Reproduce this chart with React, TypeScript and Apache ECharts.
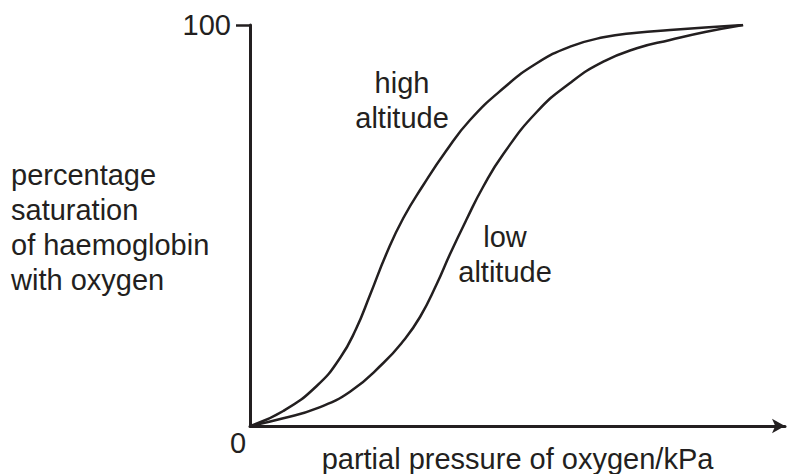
import React, { useEffect, useRef } from "react";
import * as echarts from "echarts";

const highAltitude: [number, number][] = [
  [0, 0], [6.75, 3.74], [13.53, 9.98], [18.26, 16.96], [21.5, 24.19],
  [24.34, 32.67], [27.73, 43.14], [31.1, 51.87], [35.15, 60.1], [39.76, 68.58],
  [44.62, 76.31], [51.38, 84.21], [58.15, 90.45], [64.91, 94.59],
  [71.66, 96.93], [78.44, 98.08], [85.19, 98.75], [92.29, 99.38], [100, 100],
];
const lowAltitude: [number, number][] = [
  [0, 0], [6.75, 1.92], [13.53, 4.41], [20.28, 8.55], [27.04, 15.71],
  [31.03, 21.12], [34.48, 27.18], [37.87, 35.41], [40.57, 42.89], [43.96, 51.62],
  [47.26, 59.6], [51.38, 67.83], [58.15, 78.3], [64.91, 85.54],
  [71.66, 90.85], [78.44, 94.19], [85.19, 96.26], [92.29, 98.25], [100, 100],
];
const yTickValues = [100];
const xAxisTitle = "partial pressure of oxygen/kPa";
const yAxisTitle = ["percentage", "saturation", "of haemoglobin", "with oxygen"];
const curveLabels = { high: ["high", "altitude"], low: ["low", "altitude"] };
const originLabel = "0";

const INK = "#231f20";
const FONT = "Liberation Sans, Arial, sans-serif";
const FS = 29;

export default function App() {
  const ref = useRef<HTMLDivElement>(null);
  useEffect(() => {
    document.body.style.margin = "0";
    const chart = echarts.init(ref.current!, null, { renderer: "svg" });
    const textStyle = (text: string) => ({
      text,
      fill: INK,
      fontSize: FS,
      fontFamily: FONT,
      lineHeight: 35,
    });
    chart.setOption({
      animation: false,
      grid: {
        left: 250,
        top: 25,
        width: 535,
        height: 401,
        containLabel: false,
        outerBoundsMode: "none",
      },
      xAxis: {
        type: "value",
        min: 0,
        max: 108.5,
        axisLine: {
          show: true,
          symbol: ["none", "arrow"],
          symbolSize: [11, 13],
          lineStyle: { color: INK, width: 3 },
        },
        axisTick: { show: false },
        axisLabel: { show: false },
        splitLine: { show: false },
        name: xAxisTitle,
        nameLocation: "middle",
        nameGap: 18,
        nameTextStyle: { color: INK, fontSize: FS, fontFamily: FONT },
      },
      yAxis: {
        type: "value",
        min: 0,
        max: 100,
        axisLine: { show: true, lineStyle: { color: INK, width: 3 } },
        axisTick: {
          show: true,
          length: 14,
          customValues: yTickValues,
          lineStyle: { color: INK, width: 2.5 },
        },
        axisLabel: {
          show: true,
          customValues: yTickValues,
          margin: 19,
          color: INK,
          fontSize: FS,
          fontFamily: FONT,
        },
        splitLine: { show: false },
      },
      series: [
        {
          type: "line",
          name: "high altitude",
          data: highAltitude,
          smooth: 0.5,
          symbol: "none",
          lineStyle: { color: INK, width: 2.5 },
        },
        {
          type: "line",
          name: "low altitude",
          data: lowAltitude,
          smooth: 0.5,
          symbol: "none",
          lineStyle: { color: INK, width: 2.5 },
        },
      ],
      graphic: [
        {
          type: "text",
          left: 11,
          top: 157,
          style: textStyle(yAxisTitle.join("\n")),
        },
        {
          type: "text",
          x: 402,
          y: 100,
          style: { ...textStyle(curveLabels.high.join("\n")), align: "center", verticalAlign: "middle" },
        },
        {
          type: "text",
          x: 505,
          y: 254,
          style: { ...textStyle(curveLabels.low.join("\n")), align: "center", verticalAlign: "middle" },
        },
        {
          type: "text",
          x: 238,
          y: 443,
          style: { ...textStyle(originLabel), align: "center", verticalAlign: "middle" },
        },
      ],
    });
    return () => chart.dispose();
  }, []);
  return <div ref={ref} style={{ width: 787, height: 474 }} />;
}
